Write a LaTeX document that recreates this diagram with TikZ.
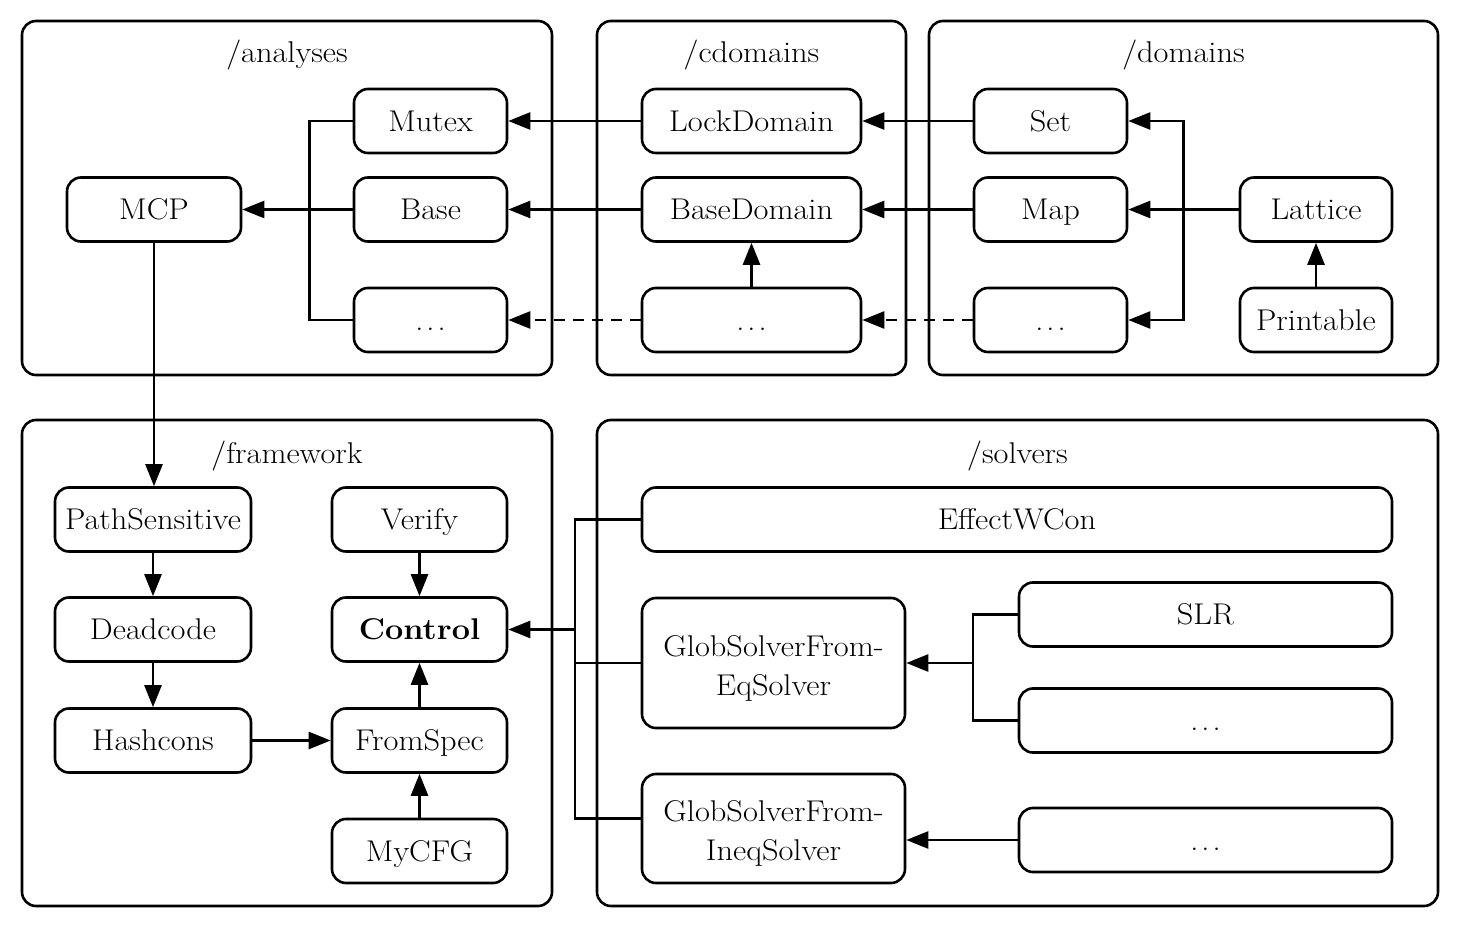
\documentclass[tikz,border=0pt]{standalone}
\usepackage{fontspec}
\setmainfont{Latin Modern Roman}[FakeStretch=1.08]
\usetikzlibrary{arrows.meta,calc}
\newcommand{\dts}{.\kern3pt.\kern3pt.}
\begin{document}
\begin{tikzpicture}[x=1pt,y=-1pt,
  font=\fontsize{30}{39}\selectfont,
  box/.style={draw, line width=2.6pt, rounded corners=14pt, inner sep=0pt, text height=20.5pt, text depth=0pt},
  box2/.style={draw, line width=2.6pt, rounded corners=14pt, inner sep=0pt, align=center},
  grp/.style={draw, line width=2.6pt, rounded corners=14pt},
  ttl/.style={anchor=base},
  arr/.style={line width=2.6pt, -{Triangle[length=22pt,width=17pt]}},
  ln/.style={line width=2.6pt},
  dsh/.style={dash pattern=on 11pt off 8pt}
]
\useasboundingbox (0,0) rectangle (1460,928);
% groups
\draw[grp] (22,21) rectangle (552,375);
\draw[grp] (597,21) rectangle (906,375);
\draw[grp] (929,21) rectangle (1438,375);
\draw[grp] (22,420) rectangle (552,906);
\draw[grp] (597,420) rectangle (1438,906);
\node[ttl] (tan) at (287,63) {/analyses};
\node[ttl] (tcd) at (751.5,63) {/cdomains};
\node[ttl] (tdo) at (1183.5,63) {/domains};
\node[ttl] (tfw) at (287,463) {/framework};
\node[ttl] (tso) at (1017.5,463) {/solvers};
% analyses
\node[box, minimum width=153pt, minimum height=64pt] (Mutex) at (430.5,121) {Mutex};
\node[box, minimum width=153pt, minimum height=64pt] (Base) at (430.5,209.5) {Base};
\node[box, minimum width=153pt, minimum height=64pt] (adots) at (430.5,320) {\dts};
\node[box, minimum width=174pt, minimum height=64pt] (MCP) at (154,209.5) {MCP};
% cdomains
\node[box, minimum width=219pt, minimum height=64pt] (Lock) at (751.5,121) {LockDomain};
\node[box, minimum width=219pt, minimum height=64pt] (BaseD) at (751.5,209.5) {BaseDomain};
\node[box, minimum width=219pt, minimum height=64pt] (cdots) at (751.5,320) {\dts};
% domains
\node[box, minimum width=153pt, minimum height=64pt] (Set) at (1050.5,121) {Set};
\node[box, minimum width=153pt, minimum height=64pt] (Map) at (1050.5,209.5) {Map};
\node[box, minimum width=153pt, minimum height=64pt] (ddots) at (1050.5,320) {\dts};
\node[box, minimum width=152pt, minimum height=64pt] (Lattice) at (1316,209.5) {Lattice};
\node[box, minimum width=152pt, minimum height=64pt] (Print) at (1316,320) {Printable};
% framework
\node[box, minimum width=196pt, minimum height=64pt] (Path) at (153,519.5) {PathSensitive};
\node[box, minimum width=196pt, minimum height=64pt] (Dead) at (153,629.5) {Deadcode};
\node[box, minimum width=196pt, minimum height=64pt] (Hash) at (153,740.5) {Hashcons};
\node[box, minimum width=175pt, minimum height=64pt] (Verify) at (419.5,519.5) {Verify};
\node[box, minimum width=175pt, minimum height=64pt] (Control) at (419.5,629.5) {\bfseries Control};
\node[box, minimum width=175pt, minimum height=64pt] (FromSpec) at (419.5,740.5) {FromSpec};
\node[box, minimum width=175pt, minimum height=64pt] (MyCFG) at (419.5,851) {MyCFG};
% solvers
\node[box, minimum width=750pt, minimum height=64pt] (Effect) at (1017,519.5) {EffectWCon};
\node[box2, minimum width=263pt, minimum height=130pt] (GEq) at (773.5,663) {\rule{0pt}{31pt}GlobSolverFrom-\\EqSolver};
\node[box2, minimum width=263pt, minimum height=109pt] (GIneq) at (773.5,828.5) {\rule{0pt}{31pt}GlobSolverFrom-\\IneqSolver};
\node[box, minimum width=373pt, minimum height=64pt] (SLR) at (1205.5,614.5) {SLR};
\node[box, minimum width=373pt, minimum height=64pt] (sdots1) at (1205.5,720.5) {\dts};
\node[box, minimum width=373pt, minimum height=64pt] (sdots2) at (1205.5,840) {\dts};
% analyses connectors
\draw[ln] (Mutex.west) -- ++(-43,0) |- (adots.west);
\draw[arr] (Base.west) -- (MCP.east);
% cdomains -> analyses
\draw[arr] (Lock.west) -- (Mutex.east);
\draw[arr] (BaseD.west) -- (Base.east);
\draw[arr,dsh] (cdots.west) -- (adots.east);
\draw[arr] (cdots.north) -- (BaseD.south);
% domains -> cdomains
\draw[arr] (Set.west) -- (Lock.east);
\draw[arr] (Map.west) -- (BaseD.east);
\draw[arr,dsh] (ddots.west) -- (cdots.east);
\coordinate (lb) at (1183.5,209.5);
\draw[arr] (Lattice.west) -- (Map.east);
\draw[arr] (lb) |- (Set.east);
\draw[arr] (lb) |- (ddots.east);
\draw[arr] (Print.north) -- (Lattice.south);
% MCP -> framework
\draw[arr] (MCP.south) -- (MCP.south |- Path.north);
% framework
\draw[arr] (Path.south) -- (Dead.north);
\draw[arr] (Dead.south) -- (Hash.north);
\draw[arr] (Hash.east) -- (FromSpec.west);
\draw[arr] (Verify.south) -- (Control.north);
\draw[arr] (FromSpec.north) -- (Control.south);
\draw[arr] (MyCFG.north) -- (FromSpec.south);
% solvers
\coordinate (sb) at (575,629.5);
\draw[ln] (Effect.west) -- (575,519.5) |- ($(GIneq.west)+(0,-10)$);
\draw[ln] (GEq.west) -- (GEq.west -| sb);
\draw[arr] (sb) -- (Control.east);
\coordinate (eb) at (973,663);
\draw[ln] (SLR.west) -- (SLR.west -| eb) |- (sdots1.west);
\draw[arr] (eb) -- (GEq.east);
\draw[arr] (sdots2.west) -- (sdots2.west -| GIneq.east);
\end{tikzpicture}
\end{document}
